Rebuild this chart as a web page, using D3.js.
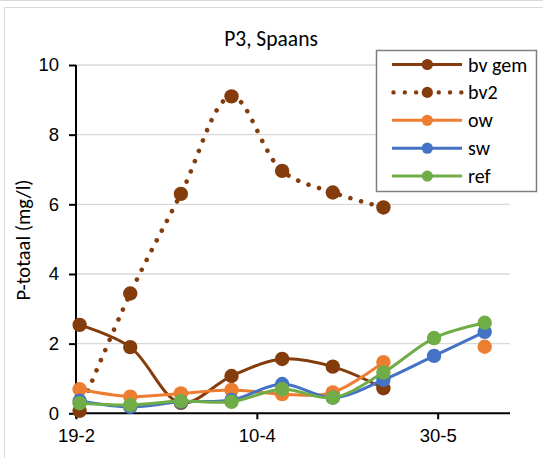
<!DOCTYPE html>
<html>
<head>
<meta charset="utf-8">
<script src="https://cdn.jsdelivr.net/npm/d3@7"></script>
<style>
  html, body { margin: 0; padding: 0; background: #fff; }
  svg { display: block; font-family: Carlito, Calibri, Lato, sans-serif; }
</style>
</head>
<body>
<svg id="chart" width="543" height="458"></svg>
<script>
// Measurement dates (day-month, 2019)
const dates = ["20-2", "6-3", "20-3", "3-4", "17-4", "1-5", "15-5", "29-5", "12-6"];

// P-totaal (mg/l) per series; null = no measurement
const bvGem = [2.54, 1.90, 0.30, 1.07, 1.56, 1.34, 0.72, null, null];
const bv2   = [0.07, 3.44, 6.30, 9.10, 6.96, 6.34, 5.91, null, null];
const ow    = [0.69, 0.48, 0.57, 0.67, 0.55, 0.60, 1.47, null, 1.91];
const sw    = [0.36, 0.18, 0.33, 0.38, 0.84, 0.45, 0.96, 1.65, 2.34];
const ref   = [0.29, 0.24, 0.35, 0.33, 0.69, 0.45, 1.17, 2.16, 2.60];

const xTickLabels = ["19-2", "10-4", "30-5"];
const yTicks = [0, 2, 4, 6, 8, 10];

const seriesNames = ["bv gem", "bv2", "ow", "sw", "ref"];
const seriesValues = [bvGem, bv2, ow, sw, ref];
const seriesColors = ["#843C0C", "#843C0C", "#ED7D31", "#4472C4", "#70AD47"];
const seriesDotted = [false, true, false, false, false];

const parse = s => { const [d, m] = s.split("-").map(Number); return new Date(2019, m - 1, d); };

const svg = d3.select("#chart");

// chart frame
svg.append("line").attr("x1", 0).attr("x2", 543).attr("y1", 0.5).attr("y2", 0.5)
  .attr("stroke", "#d9d9d9").attr("stroke-width", 1);
svg.append("rect").attr("x", 4.5).attr("y", 7.5).attr("width", 560).attr("height", 470)
  .attr("fill", "#fff").attr("stroke", "#d9d9d9").attr("stroke-width", 1);

const x = d3.scaleTime()
  .domain([parse("19-2"), parse("19-6")])
  .range([76, 510]);
const y = d3.scaleLinear().domain([0, 10]).range([413.3, 65]);

// horizontal gridlines
svg.append("g").selectAll("line").data(yTicks.filter(v => v > 0)).join("line")
  .attr("x1", 76).attr("x2", 510)
  .attr("y1", d => y(d)).attr("y2", d => y(d))
  .attr("stroke", "#d9d9d9").attr("stroke-width", 1.3);

// y axis
const yAxis = svg.append("g").attr("transform", "translate(76,0)")
  .call(d3.axisLeft(y).tickValues(yTicks).tickSize(7).tickPadding(10).tickFormat(d3.format("d")));
yAxis.select(".domain").attr("stroke", "#000").attr("stroke-width", 2).attr("d", "M0,65V418");
yAxis.selectAll(".tick line").attr("stroke", "#000").attr("stroke-width", 2);
yAxis.selectAll("text").attr("font-size", 18.5).attr("fill", "#000").attr("font-family", null);

// x axis
const xAxis = svg.append("g").attr("transform", "translate(0,413.3)")
  .call(d3.axisBottom(x).tickValues(xTickLabels.map(parse)).tickSize(6).tickPadding(10)
    .tickFormat(d3.timeFormat("%-d-%-m")));
xAxis.select(".domain").attr("stroke", "#000").attr("stroke-width", 2).attr("d", "M76,0H510");
xAxis.selectAll(".tick line").attr("stroke", "#000").attr("stroke-width", 2);
xAxis.selectAll("text").attr("font-size", 18.5).attr("fill", "#000").attr("font-family", null);

// axis title and chart title
svg.append("text").attr("transform", "translate(30,240) rotate(-90)")
  .attr("text-anchor", "middle").attr("font-size", 20.5).attr("fill", "#000")
  .text("P-totaal (mg/l)");
svg.append("text").attr("x", 271).attr("y", 46).attr("text-anchor", "middle")
  .attr("font-size", 21.5).attr("fill", "#000").text("P3, Spaans");

// series lines and markers
const pts = vals => vals.map((v, i) => ({ d: parse(dates[i]), v }));
const line = d3.line()
  .defined(p => p.v !== null)
  .x(p => x(p.d)).y(p => y(p.v))
  .curve(d3.curveCatmullRom.alpha(0.5));

seriesValues.forEach((vals, k) => {
  const g = svg.append("g");
  const data = pts(vals);
  const path = g.append("path").datum(data).attr("d", line)
    .attr("fill", "none").attr("stroke", seriesColors[k]);
  if (seriesDotted[k]) {
    path.attr("stroke-width", 4.6).attr("stroke-linecap", "round").attr("stroke-dasharray", "0.01 11");
  } else {
    path.attr("stroke-width", 3).attr("stroke-linejoin", "round");
  }
  g.selectAll("circle").data(data.filter(p => p.v !== null)).join("circle")
    .attr("cx", p => x(p.d)).attr("cy", p => y(p.v)).attr("r", 7.2)
    .attr("fill", seriesColors[k]);
});

// legend
const lg = svg.append("g");
lg.append("rect").attr("x", 376.5).attr("y", 50.5).attr("width", 160).attr("height", 141)
  .attr("fill", "#fff").attr("stroke", "#7f7f7f").attr("stroke-width", 1.5);
seriesNames.forEach((name, k) => {
  const cy = 64.5 + k * 27.9;
  const s = lg.append("line").attr("x1", 392).attr("x2", 462).attr("y1", cy).attr("y2", cy)
    .attr("stroke", seriesColors[k]);
  if (seriesDotted[k]) {
    s.attr("x1", 393.5).attr("stroke-width", 4.4).attr("stroke-linecap", "round").attr("stroke-dasharray", "0.01 11.3");
  } else {
    s.attr("stroke-width", 3);
  }
  lg.append("circle").attr("cx", 427.3).attr("cy", cy).attr("r", 5.6).attr("fill", seriesColors[k]);
  lg.append("text").attr("x", 468).attr("y", cy).attr("dy", "0.35em")
    .attr("font-size", 20).attr("fill", "#000").text(name);
});
</script>
</body>
</html>
